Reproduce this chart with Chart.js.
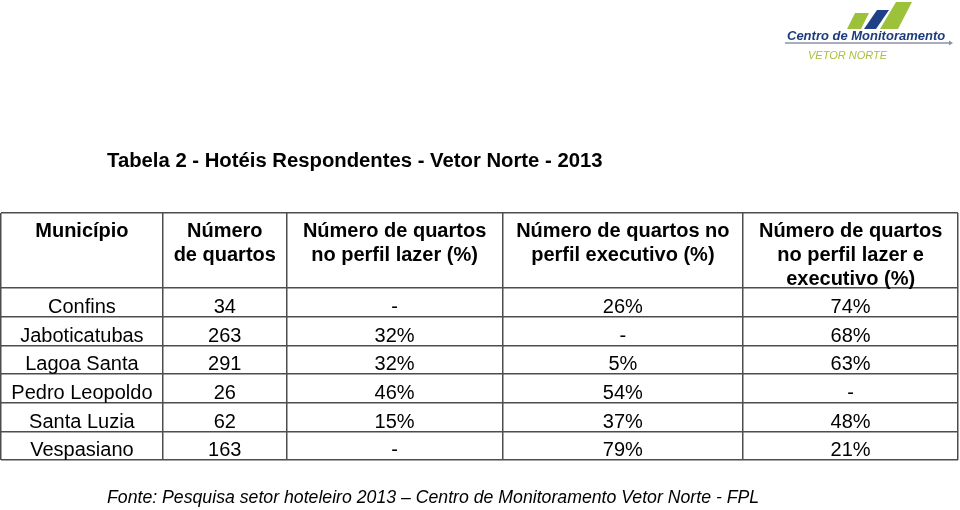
<!DOCTYPE html>
<html>
<head>
<meta charset="utf-8">
<script src="https://cdn.jsdelivr.net/npm/chart.js@4/dist/chart.umd.min.js"></script>
<style>
  html, body { margin: 0; padding: 0; background: #fff; }
  #wrap { width: 960px; height: 510px; position: relative; }
</style>
</head>
<body>
<div id="wrap"><canvas id="c" width="960" height="510"></canvas></div>
<script>
// ---- data ----
const titleText = 'Tabela 2 - Hotéis Respondentes - Vetor Norte - 2013';
const sourceText = 'Fonte: Pesquisa setor hoteleiro 2013 \u2013 Centro de Monitoramento Vetor Norte - FPL';
const headers = [
  ['Município'],
  ['Número', 'de quartos'],
  ['Número de quartos', 'no perfil lazer (%)'],
  ['Número de quartos no', 'perfil executivo (%)'],
  ['Número de quartos', 'no perfil lazer e', 'executivo (%)']
];
const municipios = ['Confins', 'Jaboticatubas', 'Lagoa Santa', 'Pedro Leopoldo', 'Santa Luzia', 'Vespasiano'];
const numeroQuartos = [34, 263, 291, 26, 62, 163];
const perfilLazer = [null, 32, 32, 46, 15, null];
const perfilExecutivo = [26, null, 5, 54, 37, 79];
const perfilLazerExecutivo = [74, 68, 63, null, 48, 21];

// ---- layout (not data) ----
const colWidths = [162, 124, 216, 241, 215];
const headerRows = 2.62; // header height in row units
const colBounds = colWidths.reduce((a, w) => { a.push(a[a.length - 1] + w); return a; }, [0]);
const rowBounds = [0, headerRows];
municipios.forEach((m, i) => rowBounds.push(headerRows + i + 1));

const pct = v => (v === null ? '-' : v + '%');
const columns = [
  municipios.map(String),
  numeroQuartos.map(String),
  perfilLazer.map(pct),
  perfilExecutivo.map(pct),
  perfilLazerExecutivo.map(pct)
];

const FONT = '"Liberation Sans", Arial, Helvetica, sans-serif';

const tablePlugin = {
  id: 'tableText',
  afterDraw(chart) {
    const ctx = chart.ctx;
    const xs = chart.scales.x, ys = chart.scales.y;
    ctx.save();
    ctx.fillStyle = '#000';
    ctx.textAlign = 'center';
    ctx.textBaseline = 'alphabetic';
    // headers
    ctx.font = 'bold 20px ' + FONT;
    const top = ys.getPixelForValue(0);
    headers.forEach((lines, c) => {
      const cx = xs.getPixelForValue((colBounds[c] + colBounds[c + 1]) / 2);
      lines.forEach((ln, k) => ctx.fillText(ln, cx, top + 24 + k * 24));
    });
    // body
    ctx.font = '20px ' + FONT;
    columns.forEach((col, c) => {
      const cx = xs.getPixelForValue((colBounds[c] + colBounds[c + 1]) / 2);
      col.forEach((txt, r) => {
        const cy = ys.getPixelForValue(headerRows + r + 0.5);
        ctx.fillText(txt, cx, cy + 10.5);
      });
    });
    // title
    ctx.textAlign = 'left';
    ctx.font = 'bold 20.3px ' + FONT;
    ctx.fillText(titleText, 107, 167);
    // source
    ctx.font = 'italic 17.7px ' + FONT;
    ctx.fillText(sourceText, 107, 503);
    // logo
    ctx.fillStyle = '#9cc23c';
    ctx.beginPath(); ctx.moveTo(855, 13); ctx.lineTo(869, 13); ctx.lineTo(861, 29); ctx.lineTo(847, 29); ctx.closePath(); ctx.fill();
    ctx.fillStyle = '#1f3f86';
    ctx.beginPath(); ctx.moveTo(877, 10); ctx.lineTo(889, 10); ctx.lineTo(876, 29); ctx.lineTo(864, 29); ctx.closePath(); ctx.fill();
    ctx.fillStyle = '#9cc23c';
    ctx.beginPath(); ctx.moveTo(896, 2); ctx.lineTo(912, 2); ctx.lineTo(898, 29); ctx.lineTo(880, 29); ctx.closePath(); ctx.fill();
    ctx.fillStyle = '#1c3d7c';
    ctx.font = 'italic bold 13px ' + FONT;
    ctx.fillText('Centro de Monitoramento', 787, 39.5);
    ctx.strokeStyle = '#8c92a6';
    ctx.lineWidth = 1.5;
    ctx.beginPath(); ctx.moveTo(785, 43); ctx.lineTo(950, 43); ctx.stroke();
    ctx.fillStyle = '#8c92a6';
    ctx.beginPath(); ctx.moveTo(949, 40.5); ctx.lineTo(953, 43); ctx.lineTo(949, 45.5); ctx.closePath(); ctx.fill();
    ctx.fillStyle = '#a8c23e';
    ctx.font = 'italic 11px ' + FONT;
    ctx.fillText('VETOR NORTE', 808, 59);
    ctx.restore();
  }
};

new Chart(document.getElementById('c'), {
  type: 'scatter',
  data: { datasets: [] },
  options: {
    responsive: false,
    animation: false,
    layout: { padding: { top: 213, bottom: 50, left: 1, right: 2 } },
    plugins: { legend: { display: false }, tooltip: { enabled: false }, title: { display: false } },
    scales: {
      x: {
        type: 'linear', min: 0, max: colBounds[colBounds.length - 1],
        afterBuildTicks: s => { s.ticks = colBounds.map(v => ({ value: v })); },
        ticks: { display: false },
        grid: { color: '#4d4d4d', lineWidth: 1.5, drawTicks: false },
        border: { display: false }
      },
      y: {
        type: 'linear', reverse: true, min: 0, max: rowBounds[rowBounds.length - 1],
        afterBuildTicks: s => { s.ticks = rowBounds.map(v => ({ value: v })); },
        ticks: { display: false },
        grid: { color: '#4d4d4d', lineWidth: 1.5, drawTicks: false },
        border: { display: false }
      }
    }
  },
  plugins: [tablePlugin]
});
</script>
</body>
</html>
